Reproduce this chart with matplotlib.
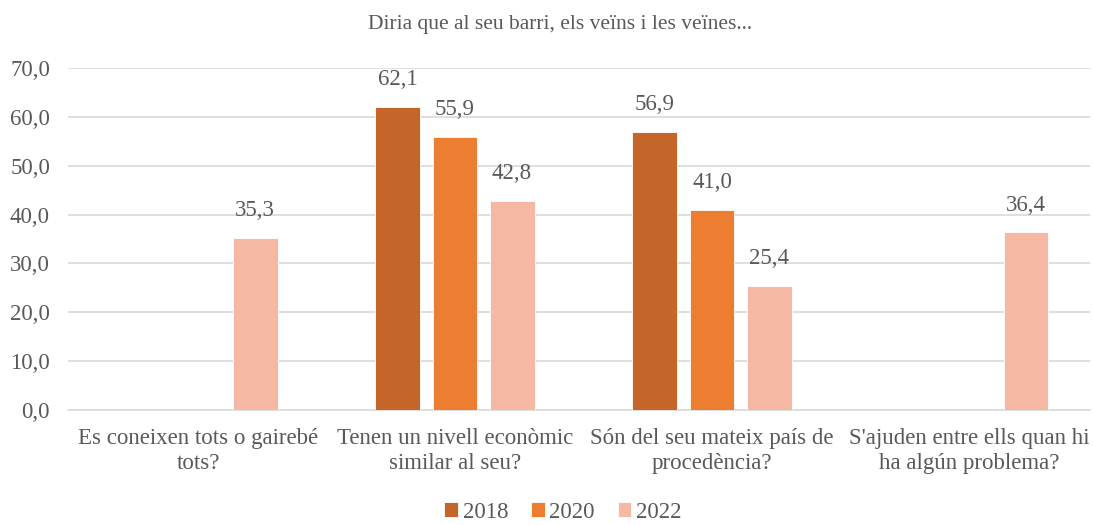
import matplotlib
matplotlib.use("Agg")
import matplotlib.pyplot as plt
import numpy as np

categories = ["Es coneixen tots o gairebé\ntots?",
              "Tenen un nivell econòmic\nsimilar al seu?",
              "Són del seu mateix país de\nprocedència?",
              "S'ajuden entre ells quan hi\nha algún problema?"]
years = ["2018", "2020", "2022"]
v2018 = [np.nan, 62.1, 56.9, np.nan]
v2020 = [np.nan, 55.9, 41.0, np.nan]
v2022 = [35.3, 42.8, 25.4, 36.4]
colors = ["#C4652A", "#ED7D31", "#F4B8A4"]
title = "Diria que al seu barri, els veïns i les veïnes..."

plt.rcParams['font.family'] = ['Liberation Serif', 'DejaVu Serif']
txt = "#595959"
fs = 16.5

fig = plt.figure(figsize=(10.93, 5.25), dpi=100)
ax = fig.add_axes([68 / 1093, 1 - 410 / 525, 1022 / 1093, 342 / 525])

x = np.arange(len(categories))
w = 0.175
step = 0.222
for i, (vals, c, lab) in enumerate(zip([v2018, v2020, v2022], colors, years)):
    xs = x + (i - 1) * step
    ax.bar(xs, vals, width=w, color=c, label=lab, edgecolor="white", linewidth=0.6, zorder=3)
    for xi, v in zip(xs, vals):
        if not np.isnan(v):
            ax.annotate(f"{v:.1f}".replace(".", ","), (xi, v), xytext=(0, 19.5), textcoords="offset points",
                        ha="center", va="center", fontsize=fs, color=txt)

ax.set_xlim(-0.506, 3.471)
ax.set_ylim(0, 70)
ax.set_yticks(np.arange(0, 71, 10))
ax.set_yticklabels([f"{t:.1f}".replace(".", ",") for t in np.arange(0, 71, 10)], fontsize=fs, color=txt)
ax.set_xticks(x)
ax.set_xticklabels(categories, fontsize=fs, color=txt, linespacing=1.25)
ax.tick_params(axis="both", length=0)
ax.tick_params(axis="y", pad=13)
ax.tick_params(axis="x", pad=13)
ax.grid(axis="y", color="#D9D9D9", linewidth=1.2, zorder=0)
for s in ["top", "right", "left"]:
    ax.spines[s].set_visible(False)
ax.spines["bottom"].set_color("#D9D9D9")
ax.spines["bottom"].set_linewidth(1.2)

fig.text(0.512, 1 - 24 / 525, title, ha="center", va="center", fontsize=15.5, color=txt)
fig.legend(loc="center", bbox_to_anchor=(0.515, 1 - 512 / 525), ncol=3, frameon=False,
           fontsize=fs, handlelength=0.6, handleheight=0.6, handletextpad=0.2, columnspacing=1.0,
           labelcolor=txt, borderpad=0.1)

fig.savefig("out.png", dpi=100)
